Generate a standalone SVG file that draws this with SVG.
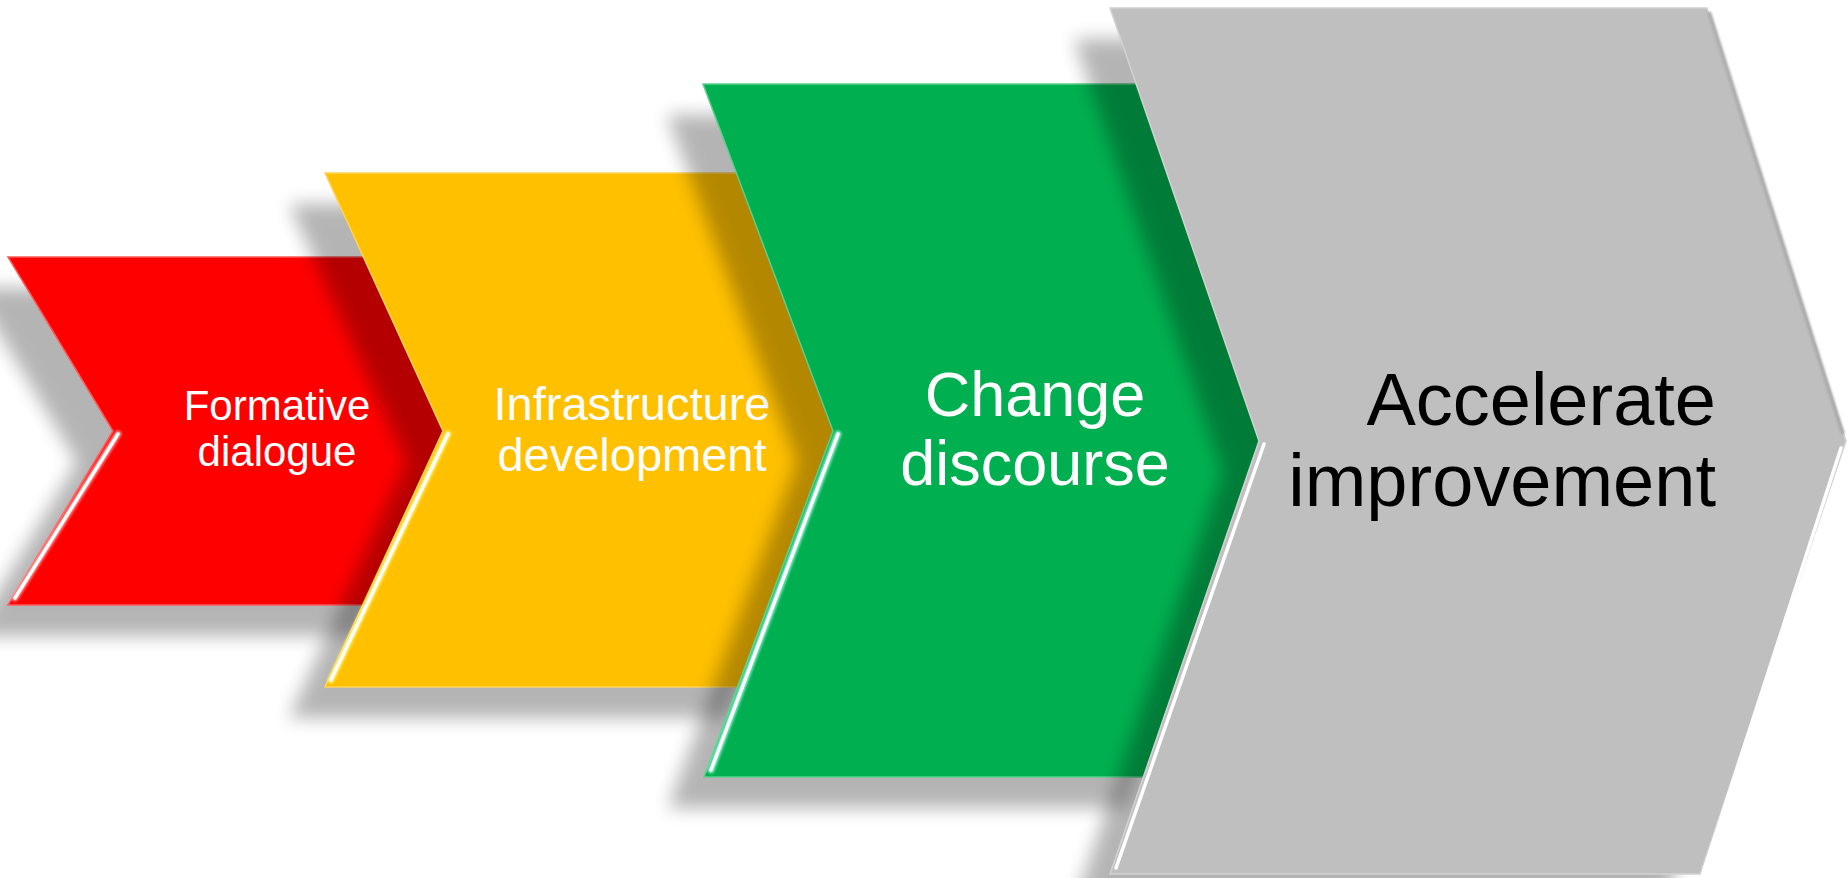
<svg xmlns="http://www.w3.org/2000/svg" width="1848" height="878" viewBox="0 0 1848 878">
  <defs>
    <!-- soft drop shadow cast down-left by every chevron -->
    <filter id="soft" x="-20%" y="-20%" width="140%" height="140%">
      <feGaussianBlur stdDeviation="9"/>
    </filter>
    <filter id="glow" x="-20%" y="-20%" width="140%" height="140%">
      <feGaussianBlur stdDeviation="1.2"/>
    </filter>
  </defs>
  <style>
    .shadow { fill: #000; opacity: 0.29; filter: url(#soft); }
    .hl { fill: none; stroke: #fff; stroke-width: 3.5; stroke-linecap: round; }
    .hl-glow { fill: none; stroke-width: 7; stroke-linecap: round; opacity: 0.85; filter: url(#glow); }
    .lbl { font-family: "Liberation Sans", Arial, sans-serif; text-anchor: middle; }
    .white { fill: #fff; }
  </style>

  <rect width="1848" height="878" fill="#fff"/>

  <!-- step 1 -->
  <g id="step-formative">
    <polygon class="shadow" transform="translate(-36,31)" points="8,257 390,257 495,431 390,605 8,605 113,431"/>
    <polygon points="8,257 390,257 495,431 390,605 8,605 113,431" fill="#ff0000" stroke="#ff5a5a" stroke-width="1.5"/>
    <path class="hl-glow" stroke="#ff9a9a" d="M118,434 L15,598"/>
    <path class="hl" d="M118,434 L15,598"/>
    <text class="lbl white" font-size="42"><tspan x="277" y="420">Formative</tspan><tspan x="277" y="466">dialogue</tspan></text>
  </g>

  <!-- step 2 -->
  <g id="step-infrastructure">
    <polygon class="shadow" transform="translate(-36,31)" points="325,173 760,173 870,431 760,687 325,687 443,431"/>
    <polygon points="325,173 760,173 870,431 760,687 325,687 443,431" fill="#ffc000" stroke="#ffd45a" stroke-width="1.5"/>
    <path class="hl-glow" stroke="#fff06a" d="M448,434 L331,680"/>
    <path class="hl" d="M448,434 L331,680"/>
    <text class="lbl white" font-size="47"><tspan x="632" y="420">Infrastructure</tspan><tspan x="632" y="471">development</tspan></text>
  </g>

  <!-- step 3 -->
  <g id="step-change">
    <polygon class="shadow" transform="translate(-36,31)" points="703,84 1160,84 1290,430 1160,777 704,777 833,431"/>
    <polygon points="703,84 1160,84 1290,430 1160,777 704,777 833,431" fill="#00b050" stroke="#5ad08a" stroke-width="1.5"/>
    <path class="hl-glow" stroke="#8ff0d0" d="M838,434 L711,770"/>
    <path class="hl" d="M838,434 L711,770"/>
    <text class="lbl white" font-size="63"><tspan x="1035" y="416">Change</tspan><tspan x="1035" y="485">discourse</tspan></text>
  </g>

  <!-- step 4 -->
  <g id="step-accelerate">
    <polygon class="shadow" transform="translate(-36,31)" points="1110,8 1707,8 1846,441 1700,874 1110,874 1259,441"/>
    <polygon points="1110,8 1707,8 1846,441 1700,874 1110,874 1259,441" fill="#bfbfbf" stroke="#d2d2d2" stroke-width="1.5"/>
    <path d="M1709,12 L1843,434" fill="none" stroke="#ababab" stroke-width="4" filter="url(#glow)"/>
    <path class="hl" d="M1264,444 L1116,868"/>
    <path class="hl" d="M1841,448 L1704,870"/>
    <text class="lbl" font-size="74" fill="#000" style="text-anchor:end"><tspan x="1716" y="425">Accelerate</tspan><tspan x="1716" y="506">improvement</tspan></text>
  </g>
</svg>
